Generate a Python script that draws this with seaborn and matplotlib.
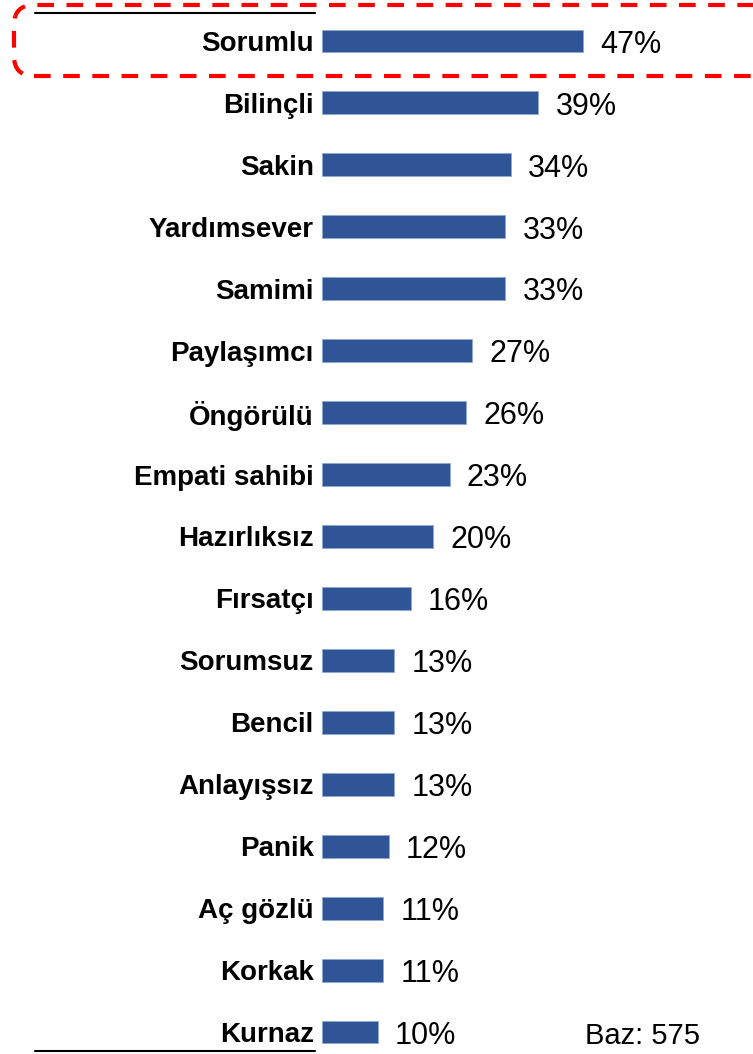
import numpy as np
import pandas as pd
import seaborn as sns
import matplotlib
matplotlib.use('Agg')
import matplotlib.pyplot as plt
from matplotlib.lines import Line2D
from matplotlib.patches import FancyBboxPatch
from matplotlib.transforms import IdentityTransform

# veriler
CATEGORIES = ['Sorumlu', 'Bilinçli', 'Sakin', 'Yardımsever', 'Samimi', 'Paylaşımcı',
              'Öngörülü', 'Empati sahibi', 'Hazırlıksız', 'Fırsatçı', 'Sorumsuz',
              'Bencil', 'Anlayışsız', 'Panik', 'Aç gözlü', 'Korkak', 'Kurnaz']
VALUES = [47, 39, 34, 33, 33, 27, 26, 23, 20, 16, 13, 13, 13, 12, 11, 11, 10]
BASE_TEXT = 'Baz: 575'

BAR_COLOR = '#2F5597'
W, H = 753, 1054


def main():
    sns.set_theme(style='white')
    plt.rcParams['font.family'] = ['Liberation Sans', 'DejaVu Sans']

    df = pd.DataFrame({'kategori': CATEGORIES, 'deger': VALUES})

    fig = plt.figure(figsize=(W / 100, H / 100), dpi=100)
    ax = fig.add_axes([322 / W, 0, (W - 322) / W, 1])

    sns.barplot(data=df, y='kategori', x='deger', orient='h', color=BAR_COLOR,
                width=0.37, saturation=1, ax=ax, edgecolor='#8FA8D0', linewidth=0.6)

    ax.set_xlim(0, (W - 322) / 5.55)
    ax.set_ylim(16 + 22 / 61.94, -41 / 61.94)
    ax.set_xlabel('')
    ax.set_ylabel('')
    ax.set_xticks([])
    sns.despine(ax=ax, left=True, bottom=True)
    ax.tick_params(axis='y', length=0, pad=6)
    for lbl in ax.get_yticklabels():
        lbl.set_fontsize(20)
        lbl.set_fontweight('bold')
        lbl.set_color('black')

    for i, v in enumerate(VALUES):
        ax.text(v + 3.1, i + 0.06, f'{v}%', va='center', ha='left', fontsize=22, color='black')

    fig.text(585 / W, 1 - 1036 / H, BASE_TEXT, va='center', ha='left', fontsize=21, color='black')

    # üst ve alt çizgiler
    for yp in (13, 1051):
        fig.add_artist(Line2D([35 / W, 315 / W], [1 - yp / H, 1 - yp / H],
                              transform=fig.transFigure, color='black', lw=1.5))

    # kırmızı kesikli çerçeve
    box = FancyBboxPatch((14, H - 76), 800, 71, boxstyle='round,pad=0,rounding_size=20',
                         transform=IdentityTransform(), fill=False, edgecolor='#FF0000',
                         lw=3, linestyle=(0, (4, 3)))
    fig.add_artist(box)

    fig.savefig('out.png', dpi=100)


if __name__ == '__main__':
    main()
